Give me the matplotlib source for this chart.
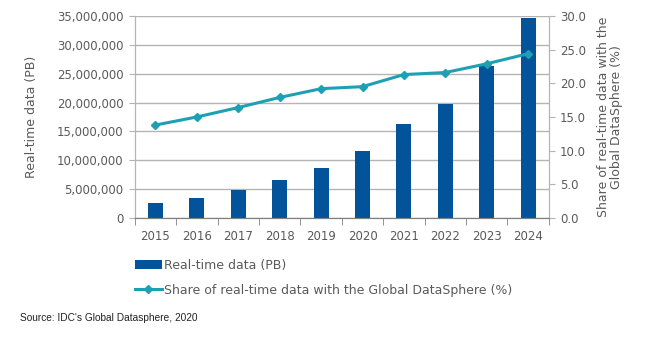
import numpy as np
import matplotlib.pyplot as plt
from matplotlib.ticker import FuncFormatter

# Real-time data volume and its share of the Global DataSphere
years = ['2015', '2016', '2017', '2018', '2019', '2020', '2021', '2022', '2023', '2024']
realtime_pb = [2600000, 3500000, 4800000, 6500000, 8600000, 11600000,
               16300000, 19800000, 26300000, 34600000]
share_pct = [13.8, 15.0, 16.4, 17.9, 19.2, 19.5, 21.3, 21.6, 22.9, 24.4]

bar_color = '#03539b'
line_color = '#1ea0b4'
text_color = '#5a5a5a'
grid_color = '#b4b4b4'

fig = plt.figure(figsize=(6.48, 3.40), dpi=100)
ax = fig.add_axes([0.208, 0.359, 0.639, 0.594])
ax2 = ax.twinx()

x = np.arange(len(years))
bars = ax.bar(x, realtime_pb, width=0.36, color=bar_color, zorder=2,
              label='Real-time data (PB)')
line, = ax2.plot(x, share_pct, color=line_color, lw=2.2, marker='D', ms=4.5,
                 zorder=3, label='Share of real-time data with the Global DataSphere (%)')

ax.set_zorder(0)
ax2.set_zorder(1)
ax2.patch.set_visible(False)

ax.set_xlim(-0.5, len(years) - 0.5)
ax.set_ylim(0, 35000000)
ax.set_yticks(np.arange(0, 35000001, 5000000))
ax.yaxis.set_major_formatter(FuncFormatter(lambda v, p: f'{int(v):,}'))
ax2.set_ylim(0, 30)
ax2.set_yticks(np.arange(0, 30.1, 5))
ax2.yaxis.set_major_formatter(FuncFormatter(lambda v, p: f'{v:.1f}'))

ax.yaxis.grid(True, color=grid_color, lw=1)
ax.set_axisbelow(True)

# category ticks sit between the years
ax.set_xticks(x)
ax.set_xticklabels(years)
ax.set_xticks(np.arange(-0.5, len(years)), minor=True)
ax.tick_params(axis='x', which='major', length=0, pad=9, labelsize=8.5, labelcolor=text_color)
ax.tick_params(axis='x', which='minor', length=5, color='#808080', direction='out')
ax.tick_params(axis='y', length=4, color=grid_color, pad=4, labelsize=8.5, labelcolor=text_color)
ax2.tick_params(axis='y', length=4, color=grid_color, pad=4, labelsize=8.5, labelcolor=text_color)

for a in (ax, ax2):
    a.spines['top'].set_visible(False)
    a.spines['left'].set_color(grid_color)
    a.spines['right'].set_color(grid_color)
    a.spines['bottom'].set_color('#808080')

ax.set_ylabel('Real-time data (PB)', fontsize=9, color=text_color, labelpad=14)
ax2.set_ylabel('Share of real-time data with the\nGlobal DataSphere (%)', fontsize=9,
               color=text_color, labelpad=8, linespacing=1.0)

leg = fig.legend(handles=[bars, line], loc='upper left', bbox_to_anchor=(0.2, 0.253),
                 frameon=False, fontsize=9, handlelength=2.2, handletextpad=0.15,
                 labelspacing=0.95, borderaxespad=0)
for t in leg.get_texts():
    t.set_color(text_color)

fig.text(0.031, 0.056, "Source: IDC's Global Datasphere, 2020", fontsize=7.3,
         family='Liberation Sans', color='#222222')

plt.savefig('out.png', dpi=100)
